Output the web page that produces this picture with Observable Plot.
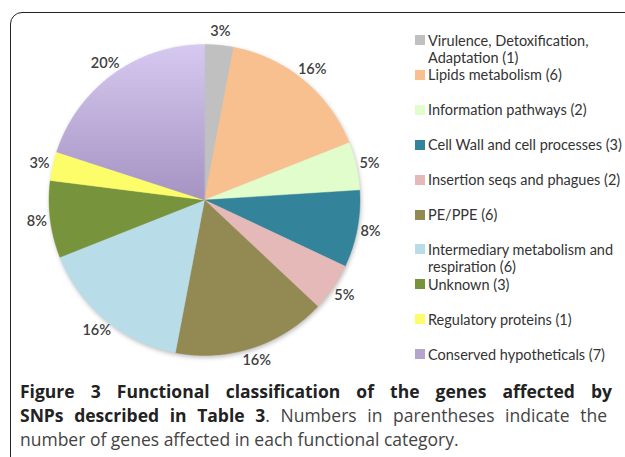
<!DOCTYPE html>
<html>
<head>
<meta charset="utf-8">
<script src="https://cdn.jsdelivr.net/npm/d3@7"></script>
<script src="https://cdn.jsdelivr.net/npm/@observablehq/plot@0.6"></script>
<style>
  html, body { margin: 0; padding: 0; background: #fff; }
  body { width: 625px; height: 457px; overflow: hidden; position: relative; font-family: Lato, "Open Sans", sans-serif; }
  #box { position: absolute; left: 10px; top: 12px; width: 700px; height: 500px; border: 1.5px solid #222; border-radius: 12px; box-sizing: border-box; }
  #chart { position: absolute; left: 0; top: 0; }
  #legend { position: absolute; left: 415px; top: 0; width: 210px; }
  .item { position: absolute; left: 0; width: 210px; font-size: 14.5px; line-height: 17px; color: #333; }
  .sw { position: absolute; left: 0; top: 3.5px; width: 10px; height: 10px; }
  .lab { position: absolute; left: 13px; top: 0; width: 197px; }
  #caption { position: absolute; left: 20px; top: 379px; width: 592px; font-family: "Open Sans", sans-serif; font-size: 17.5px; line-height: 24px; color: #444; }
  #caption .ln { white-space: nowrap; }
  #caption .j { text-align: justify; text-align-last: justify; white-space: normal; }
  #caption b { color: #222; }
</style>
</head>
<body>
<div id="box"></div>
<div id="chart"></div>
<div id="legend"></div>
<div id="caption">
  <div class="ln j"><b>Figure 3 Functional classification of the genes affected by</b></div>
  <div class="ln j" style="width:587px"><b>SNPs described in Table 3</b>. Numbers in parentheses indicate the</div>
  <div class="ln">number of genes affected in each functional category.</div>
</div>
<script>
const categories = [
  "Virulence, Detoxification, Adaptation",
  "Lipids metabolism",
  "Information pathways",
  "Cell Wall and cell processes",
  "Insertion seqs and phagues",
  "PE/PPE",
  "Intermediary metabolism and respiration",
  "Unknown",
  "Regulatory proteins",
  "Conserved hypotheticals"
];
const geneCounts = [1, 6, 2, 3, 2, 6, 6, 3, 1, 7];
const percents = [3, 16, 5, 8, 5, 16, 16, 8, 3, 20];
const colors = ["#c0c0c0", "#f9c08f", "#e1fdcc", "#33849b", "#e5b9b8", "#938953", "#b8dde8", "#77933c", "#fdfd6a", "#b5a4cc"];

const rows = categories.map((c, i) => ({category: c, count: geneCounts[i], pct: percents[i]}));
const arcs = d3.pie().sort(null).value(d => d.pct)(rows);

const step = Math.PI / 360;
const sectors = arcs.map(a => {
  const n = Math.max(2, Math.ceil((a.endAngle - a.startAngle) / step));
  const ring = [[0, 0]];
  for (let k = 0; k <= n; k++) {
    const t = a.startAngle + (a.endAngle - a.startAngle) * k / n;
    ring.push([Math.sin(t), Math.cos(t)]);
  }
  ring.push([0, 0]);
  return {type: "Feature", properties: {category: a.data.category}, geometry: {type: "Polygon", coordinates: [ring]}};
});
const circle = {type: "Polygon", coordinates: [d3.range(0, 361, 2).map(d => [Math.sin(d * Math.PI / 180), Math.cos(d * Math.PI / 180)])]};
const mid = a => (a.startAngle + a.endAngle) / 2;
const labelR = 1.087;

const plot = Plot.plot({
  width: 625,
  height: 370,
  margin: 0,
  projection: {type: "reflect-y", domain: circle, insetLeft: 48.5, insetRight: 265.5, insetTop: 44, insetBottom: 15, clip: false},
  color: {domain: categories, range: colors},
  marks: [
    Plot.geo(sectors, {fill: d => d.properties.category, stroke: d => d.properties.category, strokeWidth: 0.4}),
    Plot.text(arcs, {
      x: a => labelR * Math.sin(mid(a)),
      y: a => labelR * Math.cos(mid(a)),
      text: a => a.data.pct + "%",
      fontSize: 14.5,
      fontFamily: "Lato, sans-serif",
      fontWeight: 600,
      fill: "#404040"
    })
  ]
});

// gradient on the conserved hypotheticals slice
const svgns = "http://www.w3.org/2000/svg";
const defs = document.createElementNS(svgns, "defs");
defs.innerHTML = '<linearGradient id="purpleGrad" x1="0" y1="0" x2="0" y2="1"><stop offset="0" stop-color="#d6c9f0"/><stop offset="1" stop-color="#a593c2"/></linearGradient>';
plot.insertBefore(defs, plot.firstChild);
const geoG = plot.querySelector('g[aria-label="geo"]');
if (geoG) {
  geoG.style.filter = "drop-shadow(1px 2px 2px rgba(0,0,0,0.25))";
  const paths = geoG.querySelectorAll("path");
  const idx = categories.indexOf("Conserved hypotheticals");
  if (paths[idx]) { paths[idx].setAttribute("fill", "url(#purpleGrad)"); paths[idx].setAttribute("stroke", "url(#purpleGrad)"); }
}
document.getElementById("chart").appendChild(plot);

// legend
const legend = document.getElementById("legend");
categories.forEach((c, i) => {
  const item = document.createElement("div");
  item.className = "item";
  item.style.top = (31.5 + i * 34.9) + "px";
  const sw = document.createElement("div");
  sw.className = "sw";
  sw.style.background = colors[i];
  const lab = document.createElement("div");
  lab.className = "lab";
  lab.textContent = c + " (" + geneCounts[i] + ")";
  item.appendChild(sw);
  item.appendChild(lab);
  legend.appendChild(item);
});
</script>
</body>
</html>
